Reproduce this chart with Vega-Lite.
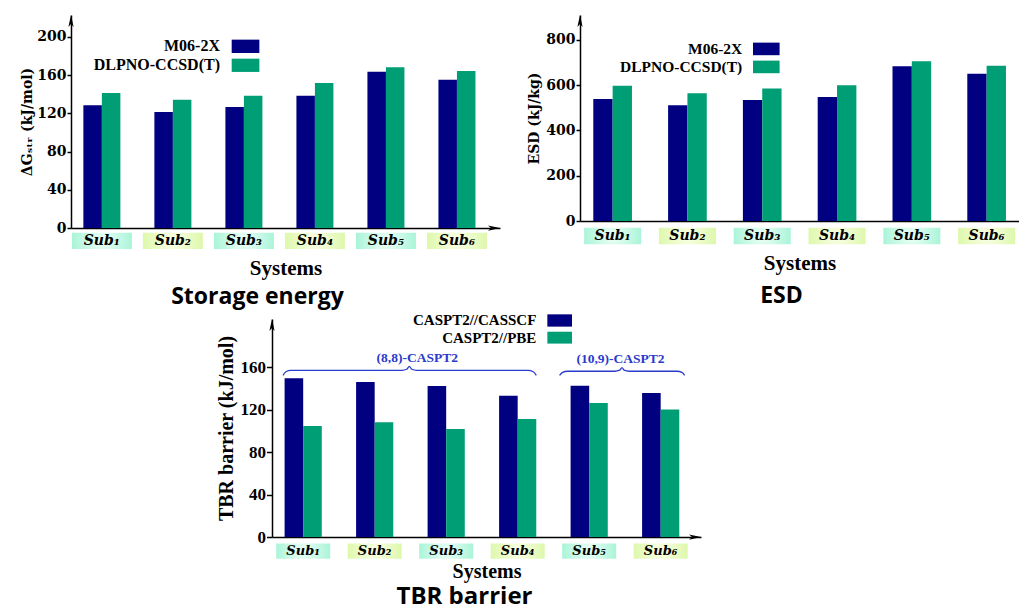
{
  "$schema": "https://vega.github.io/schema/vega-lite/v6.json",
  "padding": {"left": 20, "top": 15, "right": 0, "bottom": 0},
  "background": "white",
  "config": {"view": {"stroke": null}, "axis": {"grid": false}},
  "spacing": 4,
  "align": "none",
  "vconcat": [
    {
      "hconcat": [
        {
          "width": 429,
          "height": 213,
          "data": {"values": [
            {"sys": "Sub₁", "method": "M06-2X", "value": 128.4},
            {"sys": "Sub₁", "method": "DLPNO-CCSD(T)", "value": 141.4},
            {"sys": "Sub₂", "method": "M06-2X", "value": 121.5},
            {"sys": "Sub₂", "method": "DLPNO-CCSD(T)", "value": 134.3},
            {"sys": "Sub₃", "method": "M06-2X", "value": 126.7},
            {"sys": "Sub₃", "method": "DLPNO-CCSD(T)", "value": 138.5},
            {"sys": "Sub₄", "method": "M06-2X", "value": 138.5},
            {"sys": "Sub₄", "method": "DLPNO-CCSD(T)", "value": 151.8},
            {"sys": "Sub₅", "method": "M06-2X", "value": 163.5},
            {"sys": "Sub₅", "method": "DLPNO-CCSD(T)", "value": 168.4},
            {"sys": "Sub₆", "method": "M06-2X", "value": 155.3},
            {"sys": "Sub₆", "method": "DLPNO-CCSD(T)", "value": 164.5}
          ]},
          "title": {"text": "Storage energy", "orient": "bottom", "anchor": "middle", "font": "Open Sans", "fontSize": 23, "fontWeight": "bold", "color": "black", "offset": 8, "dx": -28},
          "layer": [
            {
              "encoding": {
                "x": {"field": "sys", "type": "nominal", "sort": null,
                  "scale": {"domain": ["Sub₁", "Sub₂", "Sub₃", "Sub₄", "Sub₅", "Sub₆"], "paddingInner": 0.479, "paddingOuter": 0.26, "align": 0.335},
                  "axis": {"labels": false, "ticks": false, "domainColor": "black", "domainWidth": 1.5, "title": "Systems", "titleFont": "Liberation Serif", "titleFontSize": 21, "titleFontWeight": "bold", "titleColor": "black", "titlePadding": 29}}
              },
              "layer": [
                {
                  "mark": {"type": "bar"},
                  "encoding": {
                    "xOffset": {"field": "method", "type": "nominal", "scale": {"domain": ["M06-2X", "DLPNO-CCSD(T)"], "paddingInner": 0, "paddingOuter": 0}},
                    "y": {"field": "value", "type": "quantitative",
                      "scale": {"domain": [0, 223], "nice": false, "zero": false},
                      "axis": {"values": [0, 40, 80, 120, 160, 200], "tickSize": 4, "tickWidth": 1.5, "tickColor": "black", "domainColor": "black", "domainWidth": 1.5, "labelFont": "DejaVu Serif", "labelFontWeight": "bold", "labelFontSize": 14, "labelColor": "black", "labelPadding": 1, "title": "ΔGₛₜᵣ (kJ/mol)", "titleFont": "DejaVu Serif", "titleFontSize": 14, "titleFontWeight": "bold", "titleColor": "black", "titlePadding": 2}},
                    "color": {"field": "method", "type": "nominal", "scale": {"domain": ["M06-2X", "DLPNO-CCSD(T)"], "range": ["#000080", "#009e74"]}, "legend": null}
                  }
                },
                {
                  "transform": [{"filter": "datum.method == 'M06-2X' && indexof(['Sub₁','Sub₃','Sub₅'], datum.sys) >= 0"}],
                  "mark": {"type": "bar", "width": 60, "color": {"gradient": "radial", "x1": 0.5, "y1": 0.5, "r1": 0, "x2": 0.5, "y2": 0.5, "r2": 0.7, "stops": [{"offset": 0, "color": "#effff8"}, {"offset": 1, "color": "#8ff0cc"}]}},
                  "encoding": {"y": {"datum": -4.9, "type": "quantitative"}, "y2": {"datum": -22}}
                },
                {
                  "transform": [{"filter": "datum.method == 'M06-2X' && indexof(['Sub₂','Sub₄','Sub₆'], datum.sys) >= 0"}],
                  "mark": {"type": "bar", "width": 60, "color": {"gradient": "radial", "x1": 0.5, "y1": 0.5, "r1": 0, "x2": 0.5, "y2": 0.5, "r2": 0.7, "stops": [{"offset": 0, "color": "#fbffe8"}, {"offset": 1, "color": "#d2f594"}]}},
                  "encoding": {"y": {"datum": -4.9, "type": "quantitative"}, "y2": {"datum": -22}}
                },
                {
                  "transform": [{"filter": "datum.method == 'M06-2X'"}],
                  "mark": {"type": "text", "font": "DejaVu Serif", "fontStyle": "italic", "fontWeight": "bold", "fontSize": 14, "color": "black", "baseline": "middle"},
                  "encoding": {"y": {"datum": -13.3, "type": "quantitative"}, "text": {"field": "sys"}}
                }
              ]
            },
            {
              "layer": [
                {
                  "transform": [{"filter": "datum.sys == 'Sub₁' && datum.method == 'M06-2X'"}],
                  "mark": {"type": "point", "shape": "M0,0L0.35,1.6L0,1.2L-0.35,1.6Z", "size": 225, "filled": true, "color": "black", "opacity": 1},
                  "encoding": {"x": {"datum": 0.565, "type": "quantitative", "scale": {"domain": [0.565, 6.607], "nice": false, "zero": false}, "axis": null}, "y": {"datum": 223, "type": "quantitative"}}
                },
                {
                  "transform": [{"filter": "datum.sys == 'Sub₁' && datum.method == 'M06-2X'"}],
                  "mark": {"type": "point", "shape": "M0,0L-1.6,-0.35L-1.2,0L-1.6,0.35Z", "size": 225, "filled": true, "color": "black", "opacity": 1},
                  "encoding": {"x": {"datum": 6.607, "type": "quantitative", "scale": {"domain": [0.565, 6.607], "nice": false, "zero": false}, "axis": null}, "y": {"datum": 0, "type": "quantitative"}}
                },
                {
                  "data": {"values": [{"method": "M06-2X"}]},
                  "mark": {"type": "rect"},
                  "encoding": {"x": {"datum": 2.828, "type": "quantitative", "scale": {"domain": [0.565, 6.607], "nice": false, "zero": false}, "axis": null}, "x2": {"datum": 3.218}, "y": {"datum": 197.2, "type": "quantitative"}, "y2": {"datum": 183.2}, "color": {"field": "method", "type": "nominal", "legend": null}}
                },
                {
                  "data": {"values": [{"method": "DLPNO-CCSD(T)"}]},
                  "mark": {"type": "rect"},
                  "encoding": {"x": {"datum": 2.828, "type": "quantitative", "scale": {"domain": [0.565, 6.607], "nice": false, "zero": false}, "axis": null}, "x2": {"datum": 3.218}, "y": {"datum": 177.3, "type": "quantitative"}, "y2": {"datum": 163.4}, "color": {"field": "method", "type": "nominal", "legend": null}}
                },
                {
                  "data": {"values": [{"method": "M06-2X"}]},
                  "mark": {"type": "text", "align": "right", "baseline": "middle", "font": "Liberation Serif", "fontWeight": "bold", "fontSize": 16, "color": "black"},
                  "encoding": {"x": {"datum": 2.663, "type": "quantitative", "scale": {"domain": [0.565, 6.607], "nice": false, "zero": false}, "axis": null}, "y": {"datum": 190.2, "type": "quantitative"}, "text": {"field": "method"}}
                },
                {
                  "data": {"values": [{"method": "DLPNO-CCSD(T)"}]},
                  "mark": {"type": "text", "align": "right", "baseline": "middle", "font": "Liberation Serif", "fontWeight": "bold", "fontSize": 16, "color": "black"},
                  "encoding": {"x": {"datum": 2.663, "type": "quantitative", "scale": {"domain": [0.565, 6.607], "nice": false, "zero": false}, "axis": null}, "y": {"datum": 170.3, "type": "quantitative"}, "text": {"field": "method"}}
                }
              ]
            }
          ],
          "resolve": {"scale": {"x": "independent", "xOffset": "independent"}}
        },
        {
          "width": 439,
          "height": 206,
          "data": {"values": [
            {"sys": "Sub₁", "method": "M06-2X", "value": 539},
            {"sys": "Sub₁", "method": "DLPNO-CCSD(T)", "value": 597},
            {"sys": "Sub₂", "method": "M06-2X", "value": 511},
            {"sys": "Sub₂", "method": "DLPNO-CCSD(T)", "value": 564},
            {"sys": "Sub₃", "method": "M06-2X", "value": 535},
            {"sys": "Sub₃", "method": "DLPNO-CCSD(T)", "value": 585},
            {"sys": "Sub₄", "method": "M06-2X", "value": 548},
            {"sys": "Sub₄", "method": "DLPNO-CCSD(T)", "value": 600},
            {"sys": "Sub₅", "method": "M06-2X", "value": 684},
            {"sys": "Sub₅", "method": "DLPNO-CCSD(T)", "value": 706},
            {"sys": "Sub₆", "method": "M06-2X", "value": 651},
            {"sys": "Sub₆", "method": "DLPNO-CCSD(T)", "value": 686}
          ]},
          "title": {"text": "ESD", "orient": "bottom", "anchor": "middle", "font": "Open Sans", "fontSize": 23, "fontWeight": "bold", "color": "black", "offset": 12, "dx": -18},
          "layer": [
            {
              "encoding": {
                "x": {"field": "sys", "type": "nominal", "sort": null,
                  "scale": {"domain": ["Sub₁", "Sub₂", "Sub₃", "Sub₄", "Sub₅", "Sub₆"], "paddingInner": 0.483, "paddingOuter": 0.176, "align": 0.505},
                  "axis": {"labels": false, "ticks": false, "domainColor": "black", "domainWidth": 1.5, "title": "Systems", "titleFont": "Liberation Serif", "titleFontSize": 21, "titleFontWeight": "bold", "titleColor": "black", "titlePadding": 31}}
              },
              "layer": [
                {
                  "mark": {"type": "bar"},
                  "encoding": {
                    "xOffset": {"field": "method", "type": "nominal", "scale": {"domain": ["M06-2X", "DLPNO-CCSD(T)"], "paddingInner": 0, "paddingOuter": 0}},
                    "y": {"field": "value", "type": "quantitative",
                      "scale": {"domain": [0, 910], "nice": false, "zero": false},
                      "axis": {"values": [0, 200, 400, 600, 800], "tickSize": 4, "tickWidth": 1.5, "tickColor": "black", "domainColor": "black", "domainWidth": 1.5, "labelFont": "DejaVu Serif", "labelFontWeight": "bold", "labelFontSize": 14, "labelColor": "black", "labelPadding": 1, "title": "ESD (kJ/kg)", "titleFont": "DejaVu Serif", "titleFontSize": 14, "titleFontWeight": "bold", "titleColor": "black", "titlePadding": 4}},
                    "color": {"field": "method", "type": "nominal", "scale": {"domain": ["M06-2X", "DLPNO-CCSD(T)"], "range": ["#000080", "#009e74"]}, "legend": null}
                  }
                },
                {
                  "transform": [{"filter": "datum.method == 'M06-2X' && indexof(['Sub₁','Sub₃','Sub₅'], datum.sys) >= 0"}],
                  "mark": {"type": "bar", "width": 57, "color": {"gradient": "radial", "x1": 0.5, "y1": 0.5, "r1": 0, "x2": 0.5, "y2": 0.5, "r2": 0.7, "stops": [{"offset": 0, "color": "#effff8"}, {"offset": 1, "color": "#8ff0cc"}]}},
                  "encoding": {"y": {"datum": -29.6, "type": "quantitative"}, "y2": {"datum": -102.9}}
                },
                {
                  "transform": [{"filter": "datum.method == 'M06-2X' && indexof(['Sub₂','Sub₄','Sub₆'], datum.sys) >= 0"}],
                  "mark": {"type": "bar", "width": 57, "color": {"gradient": "radial", "x1": 0.5, "y1": 0.5, "r1": 0, "x2": 0.5, "y2": 0.5, "r2": 0.7, "stops": [{"offset": 0, "color": "#fbffe8"}, {"offset": 1, "color": "#d2f594"}]}},
                  "encoding": {"y": {"datum": -29.6, "type": "quantitative"}, "y2": {"datum": -102.9}}
                },
                {
                  "transform": [{"filter": "datum.method == 'M06-2X'"}],
                  "mark": {"type": "text", "font": "DejaVu Serif", "fontStyle": "italic", "fontWeight": "bold", "fontSize": 14, "color": "black", "baseline": "middle"},
                  "encoding": {"y": {"datum": -66.3, "type": "quantitative"}, "text": {"field": "sys"}}
                }
              ]
            },
            {
              "layer": [
                {
                  "transform": [{"filter": "datum.sys == 'Sub₁' && datum.method == 'M06-2X'"}],
                  "mark": {"type": "point", "shape": "M0,0L0.35,1.6L0,1.2L-0.35,1.6Z", "size": 225, "filled": true, "color": "black", "opacity": 1},
                  "encoding": {"x": {"datum": 0.5635, "type": "quantitative", "scale": {"domain": [0.5635, 6.4325], "nice": false, "zero": false}, "axis": null}, "y": {"datum": 910, "type": "quantitative"}}
                },
                {
                  "data": {"values": [{"method": "M06-2X"}]},
                  "mark": {"type": "rect"},
                  "encoding": {"x": {"datum": 2.876, "type": "quantitative", "scale": {"domain": [0.5635, 6.4325], "nice": false, "zero": false}, "axis": null}, "x2": {"datum": 3.232}, "y": {"datum": 788, "type": "quantitative"}, "y2": {"datum": 732.4}, "color": {"field": "method", "type": "nominal", "legend": null}}
                },
                {
                  "data": {"values": [{"method": "DLPNO-CCSD(T)"}]},
                  "mark": {"type": "rect"},
                  "encoding": {"x": {"datum": 2.876, "type": "quantitative", "scale": {"domain": [0.5635, 6.4325], "nice": false, "zero": false}, "axis": null}, "x2": {"datum": 3.232}, "y": {"datum": 708.5, "type": "quantitative"}, "y2": {"datum": 652.8}, "color": {"field": "method", "type": "nominal", "legend": null}}
                },
                {
                  "data": {"values": [{"method": "M06-2X"}]},
                  "mark": {"type": "text", "align": "right", "baseline": "middle", "font": "Liberation Serif", "fontWeight": "bold", "fontSize": 15.5, "color": "black"},
                  "encoding": {"x": {"datum": 2.733, "type": "quantitative", "scale": {"domain": [0.5635, 6.4325], "nice": false, "zero": false}, "axis": null}, "y": {"datum": 760, "type": "quantitative"}, "text": {"field": "method"}}
                },
                {
                  "data": {"values": [{"method": "DLPNO-CCSD(T)"}]},
                  "mark": {"type": "text", "align": "right", "baseline": "middle", "font": "Liberation Serif", "fontWeight": "bold", "fontSize": 15.5, "color": "black"},
                  "encoding": {"x": {"datum": 2.733, "type": "quantitative", "scale": {"domain": [0.5635, 6.4325], "nice": false, "zero": false}, "axis": null}, "y": {"datum": 680.7, "type": "quantitative"}, "text": {"field": "method"}}
                }
              ]
            }
          ],
          "resolve": {"scale": {"x": "independent", "xOffset": "independent"}}
        }
      ],
      "spacing": 27,
      "align": "none"
    },
    {
      "hconcat": [
        {
          "width": 1,
          "height": 10,
          "data": {"values": [{}]},
          "mark": {"type": "point", "opacity": 0},
          "encoding": {}
        },
        {
          "width": 429,
          "height": 218,
          "data": {"values": [
            {"sys": "Sub₁", "method": "CASPT2//CASSCF", "value": 149.7},
            {"sys": "Sub₁", "method": "CASPT2//PBE", "value": 104.7},
            {"sys": "Sub₂", "method": "CASPT2//CASSCF", "value": 146.2},
            {"sys": "Sub₂", "method": "CASPT2//PBE", "value": 108.2},
            {"sys": "Sub₃", "method": "CASPT2//CASSCF", "value": 142.4},
            {"sys": "Sub₃", "method": "CASPT2//PBE", "value": 101.8},
            {"sys": "Sub₄", "method": "CASPT2//CASSCF", "value": 133.3},
            {"sys": "Sub₄", "method": "CASPT2//PBE", "value": 111.3},
            {"sys": "Sub₅", "method": "CASPT2//CASSCF", "value": 142.7},
            {"sys": "Sub₅", "method": "CASPT2//PBE", "value": 126.4},
            {"sys": "Sub₆", "method": "CASPT2//CASSCF", "value": 135.8},
            {"sys": "Sub₆", "method": "CASPT2//PBE", "value": 120.2}
          ]},
          "title": {"text": "TBR barrier", "orient": "bottom", "anchor": "middle", "font": "Open Sans", "fontSize": 24, "fontWeight": "bold", "color": "black", "offset": 4, "dx": -22},
          "layer": [
            {
              "encoding": {
                "x": {"field": "sys", "type": "nominal", "sort": null,
                  "scale": {"domain": ["Sub₁", "Sub₂", "Sub₃", "Sub₄", "Sub₅", "Sub₆"], "paddingInner": 0.48, "paddingOuter": 0.24, "align": 0.367},
                  "axis": {"labels": false, "ticks": false, "domainColor": "black", "domainWidth": 1.5, "title": "Systems", "titleFont": "Liberation Serif", "titleFontSize": 20, "titleFontWeight": "bold", "titleColor": "black", "titlePadding": 24}}
              },
              "layer": [
                {
                  "mark": {"type": "bar"},
                  "encoding": {
                    "xOffset": {"field": "method", "type": "nominal", "scale": {"domain": ["CASPT2//CASSCF", "CASPT2//PBE"], "paddingInner": 0, "paddingOuter": 0}},
                    "y": {"field": "value", "type": "quantitative",
                      "scale": {"domain": [0, 205.6], "nice": false, "zero": false},
                      "axis": {"values": [0, 40, 80, 120, 160], "tickSize": 5.5, "tickWidth": 1.5, "tickColor": "black", "domainColor": "black", "domainWidth": 1.5, "labelFont": "Liberation Serif", "labelFontWeight": "bold", "labelFontSize": 17, "labelColor": "black", "labelPadding": 1, "title": "TBR barrier (kJ/mol)", "titleFont": "Liberation Serif", "titleFontSize": 20, "titleFontWeight": "bold", "titleColor": "black", "titlePadding": 4}},
                    "color": {"field": "method", "type": "nominal", "scale": {"domain": ["CASPT2//CASSCF", "CASPT2//PBE"], "range": ["#000080", "#009e74"]}, "legend": null}
                  }
                },
                {
                  "transform": [{"filter": "datum.method == 'CASPT2//CASSCF' && indexof(['Sub₁','Sub₃','Sub₅'], datum.sys) >= 0"}],
                  "mark": {"type": "bar", "width": 54, "color": {"gradient": "radial", "x1": 0.5, "y1": 0.5, "r1": 0, "x2": 0.5, "y2": 0.5, "r2": 0.7, "stops": [{"offset": 0, "color": "#effff8"}, {"offset": 1, "color": "#8ff0cc"}]}},
                  "encoding": {"y": {"datum": -6.2, "type": "quantitative"}, "y2": {"datum": -20.4}}
                },
                {
                  "transform": [{"filter": "datum.method == 'CASPT2//CASSCF' && indexof(['Sub₂','Sub₄','Sub₆'], datum.sys) >= 0"}],
                  "mark": {"type": "bar", "width": 54, "color": {"gradient": "radial", "x1": 0.5, "y1": 0.5, "r1": 0, "x2": 0.5, "y2": 0.5, "r2": 0.7, "stops": [{"offset": 0, "color": "#fbffe8"}, {"offset": 1, "color": "#d2f594"}]}},
                  "encoding": {"y": {"datum": -6.2, "type": "quantitative"}, "y2": {"datum": -20.4}}
                },
                {
                  "transform": [{"filter": "datum.method == 'CASPT2//CASSCF'"}],
                  "mark": {"type": "text", "font": "DejaVu Serif", "fontStyle": "italic", "fontWeight": "bold", "fontSize": 13, "color": "black", "baseline": "middle"},
                  "encoding": {"y": {"datum": -13.3, "type": "quantitative"}, "text": {"field": "sys"}}
                }
              ]
            },
            {
              "layer": [
                {
                  "transform": [{"filter": "datum.sys == 'Sub₁' && datum.method == 'CASPT2//CASSCF'"}],
                  "mark": {"type": "point", "shape": "M0,0L0.35,1.6L0,1.2L-0.35,1.6Z", "size": 225, "filled": true, "color": "black", "opacity": 1},
                  "encoding": {"x": {"datum": 0.566, "type": "quantitative", "scale": {"domain": [0.566, 6.566], "nice": false, "zero": false}, "axis": null}, "y": {"datum": 205.6, "type": "quantitative"}}
                },
                {
                  "transform": [{"filter": "datum.sys == 'Sub₁' && datum.method == 'CASPT2//CASSCF'"}],
                  "mark": {"type": "point", "shape": "M0,0L-1.6,-0.35L-1.2,0L-1.6,0.35Z", "size": 225, "filled": true, "color": "black", "opacity": 1},
                  "encoding": {"x": {"datum": 6.566, "type": "quantitative", "scale": {"domain": [0.566, 6.566], "nice": false, "zero": false}, "axis": null}, "y": {"datum": 0, "type": "quantitative"}}
                },
                {
                  "data": {"values": [
                    {"brace": "(8,8)-CASPT2", "pos": 0.72, "level": 152.5},
                    {"brace": "(8,8)-CASPT2", "pos": 0.76, "level": 155.9},
                    {"brace": "(8,8)-CASPT2", "pos": 0.83, "level": 157.2},
                    {"brace": "(8,8)-CASPT2", "pos": 2.38, "level": 157.2},
                    {"brace": "(8,8)-CASPT2", "pos": 2.45, "level": 158.2},
                    {"brace": "(8,8)-CASPT2", "pos": 2.486, "level": 161.0},
                    {"brace": "(8,8)-CASPT2", "pos": 2.52, "level": 158.2},
                    {"brace": "(8,8)-CASPT2", "pos": 2.59, "level": 157.2},
                    {"brace": "(8,8)-CASPT2", "pos": 4.15, "level": 157.2},
                    {"brace": "(8,8)-CASPT2", "pos": 4.22, "level": 155.9},
                    {"brace": "(8,8)-CASPT2", "pos": 4.263, "level": 152.5},
                    {"brace": "(10,9)-CASPT2", "pos": 4.588, "level": 152.5},
                    {"brace": "(10,9)-CASPT2", "pos": 4.63, "level": 155.2},
                    {"brace": "(10,9)-CASPT2", "pos": 4.70, "level": 156.3},
                    {"brace": "(10,9)-CASPT2", "pos": 5.36, "level": 156.3},
                    {"brace": "(10,9)-CASPT2", "pos": 5.43, "level": 157.3},
                    {"brace": "(10,9)-CASPT2", "pos": 5.461, "level": 159.8},
                    {"brace": "(10,9)-CASPT2", "pos": 5.49, "level": 157.3},
                    {"brace": "(10,9)-CASPT2", "pos": 5.56, "level": 156.3},
                    {"brace": "(10,9)-CASPT2", "pos": 6.23, "level": 156.3},
                    {"brace": "(10,9)-CASPT2", "pos": 6.30, "level": 155.2},
                    {"brace": "(10,9)-CASPT2", "pos": 6.337, "level": 152.5}
                  ]},
                  "mark": {"type": "line", "interpolate": "monotone", "color": "#2a3acb", "strokeWidth": 1.3},
                  "encoding": {"x": {"field": "pos", "type": "quantitative", "scale": {"domain": [0.566, 6.566], "nice": false, "zero": false}, "axis": null}, "y": {"field": "level", "type": "quantitative"}, "detail": {"field": "brace"}}
                },
                {
                  "data": {"values": [{"brace": "(8,8)-CASPT2"}]},
                  "mark": {"type": "text", "align": "center", "baseline": "middle", "font": "Liberation Serif", "fontWeight": "bold", "fontSize": 13.5, "color": "#2a3acb"},
                  "encoding": {"x": {"datum": 2.598, "type": "quantitative", "scale": {"domain": [0.566, 6.566], "nice": false, "zero": false}, "axis": null}, "y": {"datum": 169.2, "type": "quantitative"}, "text": {"field": "brace"}}
                },
                {
                  "data": {"values": [{"brace": "(10,9)-CASPT2"}]},
                  "mark": {"type": "text", "align": "center", "baseline": "middle", "font": "Liberation Serif", "fontWeight": "bold", "fontSize": 13.5, "color": "#2a3acb"},
                  "encoding": {"x": {"datum": 5.44, "type": "quantitative", "scale": {"domain": [0.566, 6.566], "nice": false, "zero": false}, "axis": null}, "y": {"datum": 167.6, "type": "quantitative"}, "text": {"field": "brace"}}
                },
                {
                  "data": {"values": [{"method": "CASPT2//CASSCF"}]},
                  "mark": {"type": "rect"},
                  "encoding": {"x": {"datum": 4.417, "type": "quantitative", "scale": {"domain": [0.566, 6.566], "nice": false, "zero": false}, "axis": null}, "x2": {"datum": 4.762}, "y": {"datum": 210, "type": "quantitative"}, "y2": {"datum": 198.4}, "color": {"field": "method", "type": "nominal", "legend": null}}
                },
                {
                  "data": {"values": [{"method": "CASPT2//PBE"}]},
                  "mark": {"type": "rect"},
                  "encoding": {"x": {"datum": 4.417, "type": "quantitative", "scale": {"domain": [0.566, 6.566], "nice": false, "zero": false}, "axis": null}, "x2": {"datum": 4.762}, "y": {"datum": 193.6, "type": "quantitative"}, "y2": {"datum": 182.4}, "color": {"field": "method", "type": "nominal", "legend": null}}
                },
                {
                  "data": {"values": [{"method": "CASPT2//CASSCF"}]},
                  "mark": {"type": "text", "align": "right", "baseline": "middle", "font": "Liberation Serif", "fontWeight": "bold", "fontSize": 15, "color": "black"},
                  "encoding": {"x": {"datum": 4.263, "type": "quantitative", "scale": {"domain": [0.566, 6.566], "nice": false, "zero": false}, "axis": null}, "y": {"datum": 204.4, "type": "quantitative"}, "text": {"field": "method"}}
                },
                {
                  "data": {"values": [{"method": "CASPT2//PBE"}]},
                  "mark": {"type": "text", "align": "right", "baseline": "middle", "font": "Liberation Serif", "fontWeight": "bold", "fontSize": 15, "color": "black"},
                  "encoding": {"x": {"datum": 4.263, "type": "quantitative", "scale": {"domain": [0.566, 6.566], "nice": false, "zero": false}, "axis": null}, "y": {"datum": 188, "type": "quantitative"}, "text": {"field": "method"}}
                }
              ]
            }
          ],
          "resolve": {"scale": {"x": "independent", "xOffset": "independent"}}
        }
      ],
      "spacing": 141,
      "align": "none"
    }
  ]
}
